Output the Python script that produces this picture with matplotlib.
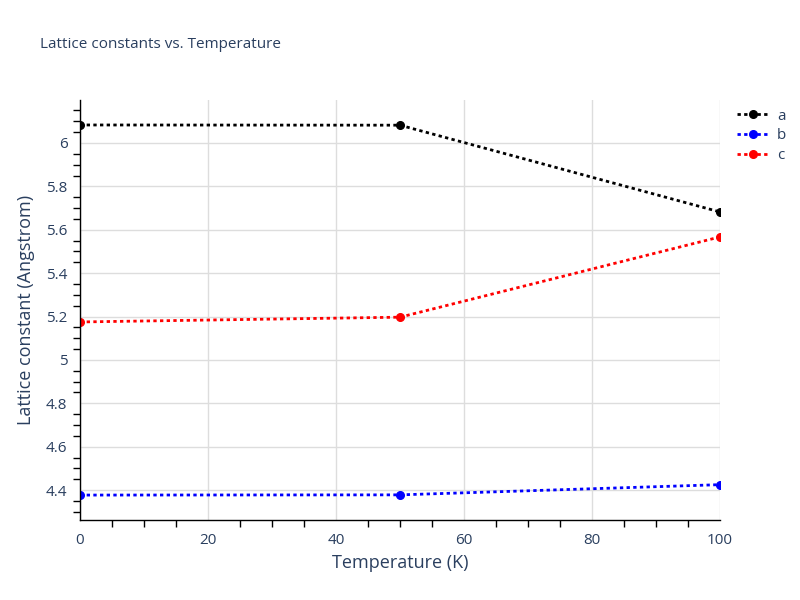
import matplotlib
matplotlib.use("Agg")
import matplotlib.pyplot as plt
from matplotlib.ticker import MultipleLocator

temperature = [0, 50, 100]
a_vals = [6.083, 6.082, 5.682]
b_vals = [4.377, 4.378, 4.425]
c_vals = [5.175, 5.197, 5.567]
series_names = ["a", "b", "c"]
series_colors = ["black", "blue", "red"]

plt.rcParams['font.family'] = ['Open Sans', 'DejaVu Sans']
txt = "#2a3f5f"

fig = plt.figure(figsize=(8, 6), dpi=100)
ax = fig.add_axes([0.1, 0.1333, 0.8, 0.7])

handles = []
for vals, name, col in zip([a_vals, b_vals, c_vals], series_names, series_colors):
    ln, = ax.plot(temperature, vals, linestyle=(0, (1.2, 1.2)), linewidth=2, color=col,
                  marker='o', markersize=5.5, label=name)
    handles.append(ln)

ax.set_xlim(0, 100)
ax.set_ylim(4.262, 6.198)
ax.xaxis.set_major_locator(MultipleLocator(20))
ax.yaxis.set_major_locator(MultipleLocator(0.2))
ax.xaxis.set_minor_locator(MultipleLocator(5))
ax.yaxis.set_minor_locator(MultipleLocator(0.05))
ax.yaxis.set_major_formatter(matplotlib.ticker.FuncFormatter(lambda v, p: f"{v:.1f}".rstrip('0').rstrip('.')))

ax.grid(True, which='major', color='#dddddd', linewidth=1)
ax.set_axisbelow(True)
for s in ['top', 'right']:
    ax.spines[s].set_visible(False)
for s in ['left', 'bottom']:
    ax.spines[s].set_color('black')
    ax.spines[s].set_linewidth(1)
ax.tick_params(which='major', length=0, pad=9, labelsize=11, labelcolor=txt)
ax.tick_params(which='minor', length=5, width=1, color='black', direction='out')

ax.set_xlabel("Temperature (K)", fontsize=13, color=txt, labelpad=5)
ax.set_ylabel("Lattice constant (Angstrom)", fontsize=13, color=txt, labelpad=8)

fig.text(40/800, 1 - 45/600, "Lattice constants vs. Temperature", fontsize=11, color=txt,
         ha='left', va='center')

leg = ax.legend(handles=handles, loc='upper left', bbox_to_anchor=(1.02, 0.99), frameon=False,
                fontsize=11, labelcolor=txt, handlelength=2.0, handletextpad=0.6, labelspacing=0.3,
                borderaxespad=0.0, borderpad=0.3)

fig.savefig("out.png", dpi=100)
